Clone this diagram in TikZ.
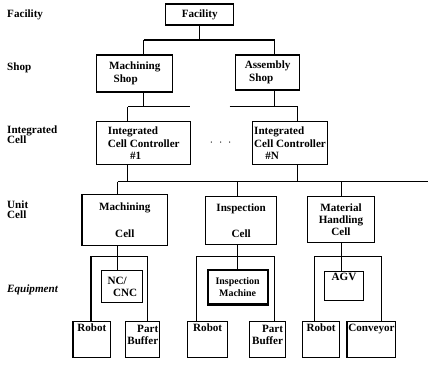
\documentclass[tikz,border=0pt]{standalone}
\usepackage{fontspec}
\setmainfont{Liberation Serif}

\tikzset{
  box/.style 2 args={draw, line width=1.1pt, inner sep=1pt, align=center,
    minimum width=#1*0.03cm, minimum height=#2*0.03cm,
    font=\bfseries\fontsize{9.5}{10.5}\selectfont},
  lvl/.style={anchor=west, align=left, inner sep=0pt,
    font=\bfseries\fontsize{9.5}{9}\selectfont},
  wire/.style={line width=1.1pt}
}

\begin{document}
\begin{tikzpicture}[x=0.03cm, y=-0.03cm]
  \path[fill=white] (0,0) rectangle (429,366);
  % level names
  \node[lvl] (lfac) at (7,15) {Facility};
  \node[lvl] (lshop) at (7,68) {Shop};
  \node[lvl] (lint) at (7,135) {Integrated\\Cell};
  \node[lvl] (lunit) at (7,210) {Unit\\Cell};
  \node[lvl] (lequ) at (7,290) {\textit{Equipment}};

  % boxes
  \node[box={68}{21}] (fac) at (200,14.5) {Facility};
  \node[box={76}{37}, align=left] (msh) at (135,73.5) {Machining\\\hspace*{0.4em}Shop};
  \node[box={64}{35}, align=left] (ash) at (268,72.5) {Assembly\\\hspace*{0.4em}Shop};
  \node[box={94}{43}, align=left] (icc1) at (144,143.5) {Integrated\\Cell Controller\\\hspace*{2em}\#1};
  \node[box={75}{43}, align=left] (iccN) at (290.5,143.5) {Integrated\\Cell Controller\\\hspace*{1em}\#N};
  \node[font=\bfseries] (gap) at (221,143) {$\cdot\;\cdot\;\cdot$};
  \node[box={86}{51}] (mcell) at (125,220.5) {Machining\\[12pt]Cell};
  \node[box={71}{48}] (icell) at (241.5,221) {Inspection\\[12pt]Cell};
  \node[box={67}{46}] (hcell) at (341.5,220) {Material\\Handling\\Cell};
  \node[box={41}{32}, align=left] (nc) at (122.5,287) {NC/\\\hspace*{0.5em}CNC};
  \node[box={60}{35}, line width=1.8pt, font=\bfseries\fontsize{8.5}{10}\selectfont] (imach) at (238,287.5) {Inspection\\Machine};
  \node[box={39}{29}, text depth=15pt] (agv) at (344.5,286.5) {AGV};
  \node[box={38}{36}, text depth=20pt] (rob1) at (92,340) {Robot};
  \node[box={34}{36}, align=right, text depth=8pt] (pbuf1) at (143,340) {Part\\Buffer};
  \node[box={40}{36}, text depth=20pt] (rob2) at (208,340) {Robot};
  \node[box={36}{36}, align=right, text depth=8pt] (pbuf2) at (268,340) {Part\\Buffer};
  \node[box={37}{36}, text depth=20pt] (rob3) at (321.5,340) {Robot};
  \node[box={46}{36}, text depth=20pt] (conv) at (372,340) {Conveyor};

  % facility to shops
  \coordinate (f1) at (144,40);
  \coordinate (f2) at (275,40);
  \draw[wire] (fac.south) -- (fac.south |- f1);
  \draw[wire] (f1) -- (f2);
  \draw[wire] (f1) -- (f1 |- msh.north);
  \draw[wire] (f2) -- (f2 |- ash.north);

  % shops to cell controllers
  \coordinate (s1) at (128,107);
  \coordinate (s2) at (190,107);
  \coordinate (s3) at (230,107);
  \coordinate (s4) at (298,107);
  \draw[wire] (f1 |- msh.south) -- (f1 |- s1);
  \draw[wire] (s1) -- (s2);
  \draw[wire] (s1) -- (s1 |- icc1.north);
  \draw[wire] (f2 |- ash.south) -- (f2 |- s3);
  \draw[wire] (s3) -- (s4);
  \draw[wire] (s4) -- (s4 |- iccN.north);

  % cell controllers to unit cells
  \coordinate (c0) at (118,182);
  \coordinate (c1) at (429,182);
  \coordinate (c2) at (238,182);
  \coordinate (c3) at (342,182);
  \draw[wire] (s1 |- icc1.south) -- (s1 |- c0);
  \draw[wire] (s4 |- iccN.south) -- (s4 |- c0);
  \draw[wire] (c0) -- (c1);
  \draw[wire] (c0) -- (c0 |- mcell.north);
  \draw[wire] (c2) -- (c2 |- icell.north);
  \draw[wire] (c3) -- (c3 |- hcell.north);

  % unit cells to equipment
  \coordinate (b1) at (91,257);
  \coordinate (b2) at (148,257);
  \coordinate (b3) at (197,257);
  \coordinate (b4) at (275,257);
  \coordinate (b5) at (315,257);
  \coordinate (b6) at (382,257);
  \draw[wire] (c0 |- mcell.south) -- (c0 |- nc.north);
  \draw[wire] (b1 |- rob1.north) -- (b1) -- (b2) -- (b2 |- pbuf1.north);
  \draw[wire] (c2 |- icell.south) -- (c2 |- imach.north);
  \draw[wire] (b3 |- rob2.north) -- (b3) -- (b4) -- (b4 |- pbuf2.north);
  \draw[wire] (c3 |- hcell.south) -- (c3 |- agv.north);
  \draw[wire] (b5 |- rob3.north) -- (b5) -- (b6) -- (b6 |- conv.north);
\end{tikzpicture}
\end{document}
